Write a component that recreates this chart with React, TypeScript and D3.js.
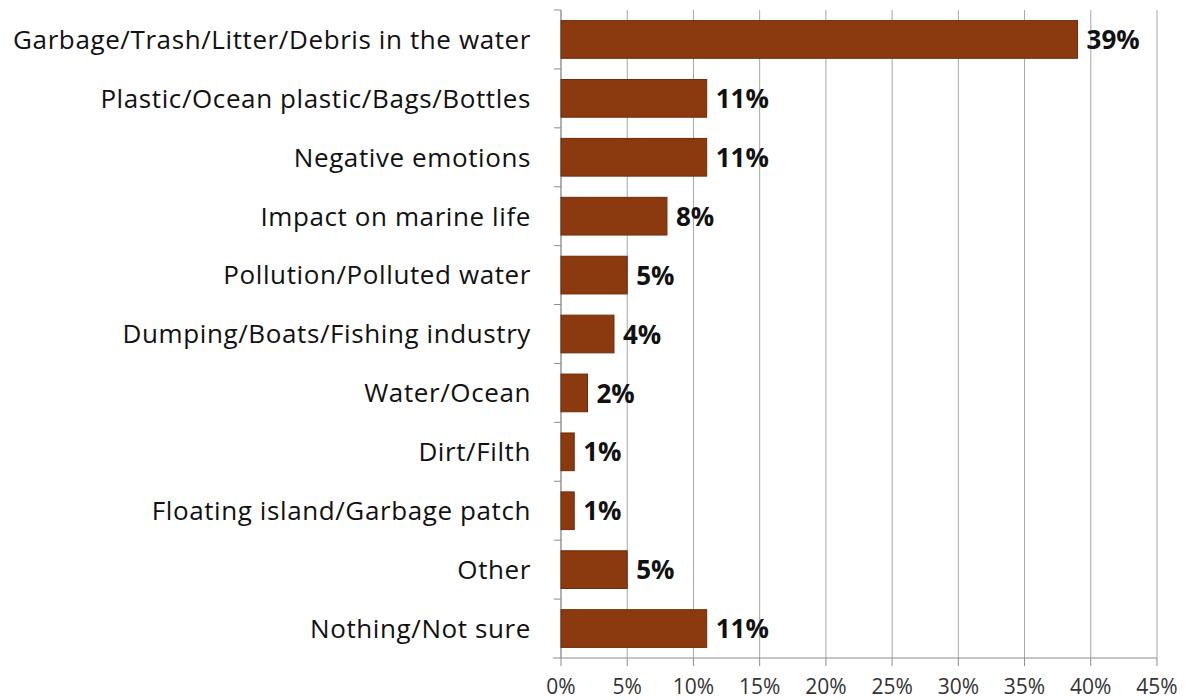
import React from "react";
import * as d3 from "d3";

const categories = [
  "Garbage/Trash/Litter/Debris in the water",
  "Plastic/Ocean plastic/Bags/Bottles",
  "Negative emotions",
  "Impact on marine life",
  "Pollution/Polluted water",
  "Dumping/Boats/Fishing industry",
  "Water/Ocean",
  "Dirt/Filth",
  "Floating island/Garbage patch",
  "Other",
  "Nothing/Not sure",
];
const values = [39, 11, 11, 8, 5, 4, 2, 1, 1, 5, 11];
const ticks = [0, 5, 10, 15, 20, 25, 30, 35, 40, 45];

const W = 1187;
const H = 700;
const left = 561;
const right = 1157;
const top = 10;
const bottom = 658;
const FONT = "'Open Sans', sans-serif";

export default function App() {
  const x = d3.scaleLinear().domain([0, 45]).range([left, right]);
  const y = d3.scaleBand<string>().domain(categories).range([top, bottom]).paddingInner(0.36).paddingOuter(0.18);
  const step = (bottom - top) / categories.length;
  return (
    <svg width={W} height={H} style={{ position: "absolute", left: 0, top: 0, background: "#fff" }}>
      {ticks.map((t) => (
        <line key={"g" + t} x1={x(t)} x2={x(t)} y1={top} y2={bottom} stroke="#a6a6a6" strokeWidth={1} />
      ))}
      {ticks.map((t) => (
        <line key={"t" + t} x1={x(t)} x2={x(t)} y1={bottom} y2={bottom + 8} stroke="#8c8c8c" strokeWidth={1} />
      ))}
      <line x1={left - 8} x2={right} y1={bottom} y2={bottom} stroke="#8c8c8c" strokeWidth={1} />
      <line x1={left} x2={left} y1={top} y2={bottom} stroke="#8c8c8c" strokeWidth={1} />
      {d3.range(categories.length).map((i) => (
        <line key={"yt" + i} x1={left - 7} x2={left} y1={top + i * step} y2={top + i * step} stroke="#8c8c8c" strokeWidth={1} />
      ))}
      {categories.map((c, i) => {
        const by = y(c)!;
        const bh = y.bandwidth();
        return (
          <g key={c}>
            <rect x={x(0)} y={by} width={x(values[i]) - x(0)} height={bh} fill="#8b3a0f" stroke="#6e2c08" strokeWidth={1} />
            <text x={left - 30} y={by + bh / 2} dy="0.36em" textAnchor="end" fontFamily={FONT} fontSize={26} letterSpacing={0.6} fill="#111">
              {c}
            </text>
            <text x={x(values[i]) + 9} y={by + bh / 2} dy="0.37em" fontFamily={FONT} fontWeight="bold" fontSize={26} fill="#111">
              {values[i] + "%"}
            </text>
          </g>
        );
      })}
      {ticks.map((t) => (
        <text key={"l" + t} x={x(t)} y={694} textAnchor="middle" fontFamily={FONT} fontSize={21} fill="#333">
          {t + "%"}
        </text>
      ))}
    </svg>
  );
}
